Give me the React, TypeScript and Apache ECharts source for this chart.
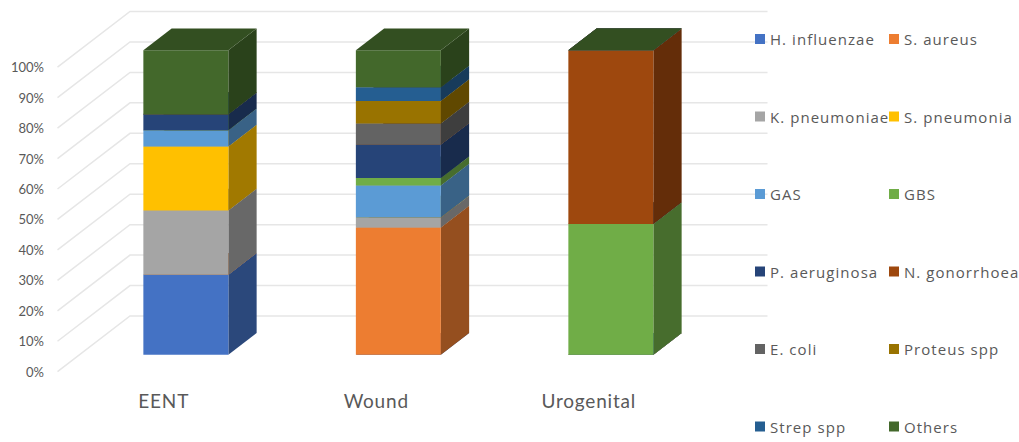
import React, { useEffect, useRef } from "react";
import * as echarts from "echarts";

const categories = ["EENT", "Wound", "Urogenital"];
const tickValues = [0, 10, 20, 30, 40, 50, 60, 70, 80, 90, 100];

const seriesNames = [
  "H. influenzae", "S. aureus", "K. pneumoniae", "S. pneumonia", "GAS", "GBS",
  "P. aeruginosa", "N. gonorrhoea", "E. coli", "Proteus spp", "Strep spp", "Others",
];
const seriesColors = [
  "#4472C4", "#ED7D31", "#A5A5A5", "#FFC000", "#5B9BD5", "#70AD47",
  "#264478", "#9E480E", "#636363", "#997300", "#255E91", "#43682B",
];
const hInfluenzae = [26.3, 0, 0];
const sAureus = [0, 41.8, 0];
const kPneumoniae = [21.1, 3.3, 0];
const sPneumonia = [21, 0, 0];
const gas = [5.3, 10.5, 0];
const gbs = [0, 2.4, 42.9];
const pAeruginosa = [5.3, 11, 0];
const nGonorrhoea = [0, 0, 57.1];
const eColi = [0, 6.9, 0];
const proteus = [0, 7.4, 0];
const strep = [0, 4.5, 0];
const others = [21, 12.2, 0];
const seriesValues = [
  hInfluenzae, sAureus, kPneumoniae, sPneumonia, gas, gbs,
  pAeruginosa, nGonorrhoea, eColi, proteus, strep, others,
];
const legendLeft = seriesNames.filter((_, i) => i % 2 === 0);
const legendRight = seriesNames.filter((_, i) => i % 2 === 1);

const DEPTH_X = 72.5;
const DEPTH_Y = 55.7;
const Z_FRONT = 0.305;
const Z_BACK = 0.695;
const BAR_RATIO = 0.4;

function shade(hex: string, f: number) {
  const n = parseInt(hex.slice(1), 16);
  const c = (s: number) => Math.round(((n >> s) & 255) * f);
  return `rgb(${c(16)},${c(8)},${c(0)})`;
}

export default function App() {
  const ref = useRef<HTMLDivElement>(null);
  useEffect(() => {
    const chart = echarts.init(ref.current!, undefined, { renderer: "svg" });

    let running = categories.map(() => 0);
    const barSeries = seriesNames.map((name, si) => {
      const data = categories.map((_, ci) => {
        const start = running[ci];
        const end = start + seriesValues[si][ci];
        running[ci] = end;
        return [ci, start, end];
      });
      const color = seriesColors[si];
      return {
        type: "custom",
        name,
        z: 3,
        clip: false,
        itemStyle: { color },
        encode: { x: 0, y: [1, 2] },
        data,
        renderItem: (_: any, api: any) => {
          const ci = api.value(0);
          const [cx, y0] = api.coord([ci, api.value(1)]);
          const [, y1] = api.coord([ci, api.value(2)]);
          const half = (api.size([1, 0])[0] * BAR_RATIO) / 2;
          const fx = DEPTH_X * Z_FRONT;
          const fy = DEPTH_Y * Z_FRONT;
          const dx = DEPTH_X * (Z_BACK - Z_FRONT);
          const dy = DEPTH_Y * (Z_BACK - Z_FRONT);
          const l = cx - half + fx;
          const r = cx + half + fx;
          const b = y0 - fy;
          const t = y1 - fy;
          const children: any[] = [];
          if (t < b) {
            children.push({
              type: "polygon",
              shape: { points: [[r, b], [r + dx, b - dy], [r + dx, t - dy], [r, t]] },
              style: { fill: shade(color, 0.63) },
            });
            children.push({
              type: "rect",
              shape: { x: l, y: t, width: r - l, height: b - t },
              style: { fill: color },
            });
          }
          children.push({
            type: "polygon",
            shape: { points: [[l, t], [r, t], [r + dx, t - dy], [l + dx, t - dy]] },
            style: { fill: shade(color, 0.76) },
          });
          return { type: "group", children };
        },
      };
    });

    const wallSeries = {
      type: "custom",
      name: "walls",
      z: 1,
      clip: false,
      silent: true,
      encode: { y: 1 },
      data: tickValues.map((v) => [0, v]),
      renderItem: (params: any, api: any) => {
        const y = api.coord([0, api.value(1)])[1];
        const left = params.coordSys.x;
        const right = left + params.coordSys.width;
        return {
          type: "polyline",
          shape: {
            points: [
              [left, y],
              [left + DEPTH_X, y - DEPTH_Y],
              [right + DEPTH_X, y - DEPTH_Y],
            ],
          },
          style: { stroke: "#e6e6e6", lineWidth: 1.5, fill: "none" },
        };
      },
    };

    const legendBase = {
      orient: "vertical",
      top: 31.5,
      padding: 0,
      itemWidth: 10,
      itemHeight: 10,
      itemGap: 62.5,
      icon: "rect",
      selectedMode: false,
      textStyle: { fontFamily: "Open Sans", fontSize: 15, color: "#595959", lineHeight: 15 },
    };

    chart.setOption({
      animation: false,
      backgroundColor: "#ffffff",
      grid: { left: 57.5, top: 67.2, width: 637.5, height: 304.5, containLabel: false },
      xAxis: {
        type: "category",
        data: categories,
        axisLine: { show: false },
        axisTick: { show: false },
        axisLabel: { margin: 19, fontFamily: "Lato", fontSize: 19, color: "#595959" },
      },
      yAxis: {
        type: "value",
        min: 0,
        max: 100,
        interval: 10,
        axisLine: { show: false },
        axisTick: { show: false },
        splitLine: { show: false },
        axisLabel: {
          formatter: "{value}%",
          margin: 13.5,
          fontFamily: "Lato",
          fontSize: 13,
          color: "#595959",
        },
      },
      legend: [
        { ...legendBase, left: 755, data: legendLeft },
        { ...legendBase, left: 889, data: legendRight },
      ],
      series: [wallSeries, ...barSeries],
    });
    return () => chart.dispose();
  }, []);
  return (
    <>
      <style>{`text[style*="Open Sans"]{letter-spacing:1.05px}text[style*="19px"]{letter-spacing:.8px}`}</style>
      <div
        ref={ref}
        style={{ position: "absolute", left: 0, top: 0, width: 1019, height: 442 }}
      />
    </>
  );
}
